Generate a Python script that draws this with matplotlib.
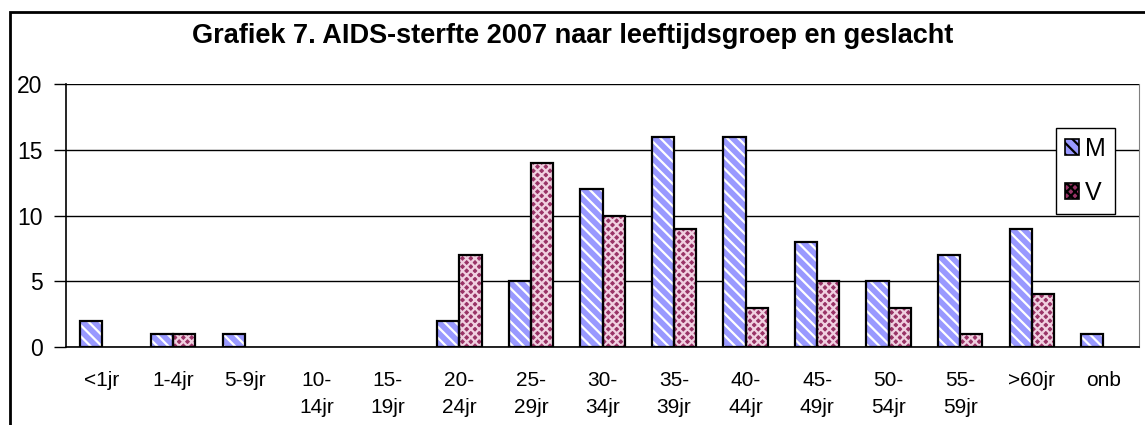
import matplotlib.pyplot as plt
import numpy as np
from matplotlib.patches import Rectangle, Patch

plt.rcParams['font.family'] = ['Liberation Sans', 'DejaVu Sans']
plt.rcParams['hatch.linewidth'] = 1.6

# Age groups and deaths by sex
leeftijd = ['<1jr', '1-4jr', '5-9jr', '10-\n14jr', '15-\n19jr', '20-\n24jr', '25-\n29jr',
            '30-\n34jr', '35-\n39jr', '40-\n44jr', '45-\n49jr', '50-\n54jr', '55-\n59jr',
            '>60jr', 'onb']
mannen = [2, 1, 1, 0, 0, 2, 5, 12, 16, 16, 8, 5, 7, 9, 1]
vrouwen = [0, 1, 0, 0, 0, 7, 14, 10, 9, 3, 5, 3, 1, 4, 0]

fig = plt.figure(figsize=(11.45, 4.25), dpi=100)
ax = fig.add_axes([66 / 1145, 1 - 347 / 425, (1139 - 66) / 1145, (347 - 84) / 425])

x = np.arange(len(leeftijd))
w = 0.31
m = np.array(mannen)
v = np.array(vrouwen)

# fill with white hatching, then black outline on top (skip empty bars)
ax.bar(x - w / 2, m, w, color='#9999ff', edgecolor='white', hatch='\\\\\\', linewidth=0, zorder=3)
ax.bar(x + w / 2, v, w, color='#993366', edgecolor='#f0d0e0', hatch='xxxx', linewidth=0, zorder=3)
ax.bar((x - w / 2)[m > 0], m[m > 0], w, fill=False, edgecolor='black', linewidth=1.6, zorder=4)
ax.bar((x + w / 2)[v > 0], v[v > 0], w, fill=False, edgecolor='black', linewidth=1.6, zorder=4)

# legend proxies
hm = Patch(facecolor='#9999ff', edgecolor='black', hatch='\\\\\\', linewidth=1.2)
hv = Patch(facecolor='#993366', edgecolor='black', hatch='xxxx', linewidth=1.2)
leg = ax.legend([hm, hv], ['M', 'V'], loc='upper left', bbox_to_anchor=(1056 / 1145, 1 - 128 / 425),
                bbox_transform=fig.transFigure, fontsize=18, frameon=True, fancybox=False,
                edgecolor='black', framealpha=1, borderpad=0.35, handlelength=0.56, handleheight=0.56,
                handletextpad=0.25, labelspacing=0.8, borderaxespad=0)
leg.get_frame().set_linewidth(1.0)
leg.set_zorder(5)

ax.set_xlim(-0.5, len(leeftijd) - 0.5)
ax.set_ylim(0, 20)
ax.set_yticks([0, 5, 10, 15, 20])
ax.yaxis.grid(True, color='black', linewidth=1.0, zorder=0)
ax.set_xticks(x)
ax.set_xticklabels(leeftijd, fontsize=15, linespacing=1.55)
ax.tick_params(axis='x', length=0, pad=17)
ax.tick_params(axis='y', length=9, width=1, labelsize=16.5, pad=8)
for s in ['left', 'bottom']:
    ax.spines[s].set_linewidth(1.2)
ax.spines['right'].set_color('#808080')
ax.spines['top'].set_visible(False)

fig.text(0.5, 1 - 36 / 425, 'Grafiek 7. AIDS-sterfte 2007 naar leeftijdsgroep en geslacht',
         ha='center', va='center', fontsize=19.5, fontweight='bold')

# outer chart frame
fig.patches.append(Rectangle((10 / 1145, -0.1), 1.2, 1 - 12 / 425 + 0.1, transform=fig.transFigure,
                             fill=False, edgecolor='black', linewidth=2))

fig.savefig('out.png', dpi=100)
